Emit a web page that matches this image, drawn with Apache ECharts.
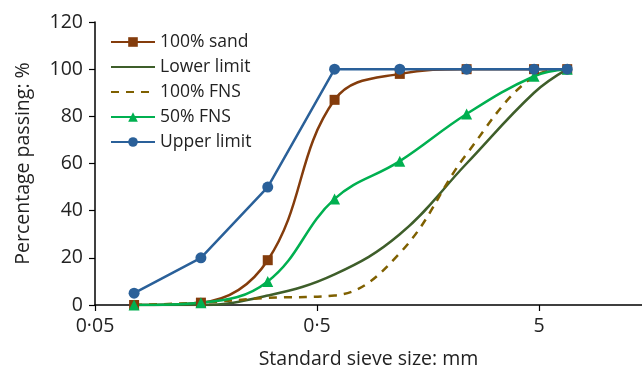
<!DOCTYPE html>
<html>
<head>
<meta charset="utf-8">
<script src="https://cdn.jsdelivr.net/npm/echarts@6/dist/echarts.min.js"></script>
<style>
  html, body { margin: 0; padding: 0; background: #fff; }
  #chart { width: 642px; height: 369px; }
</style>
</head>
<body>
<div id="chart"></div>
<script>
// sieve sizes in mm
const sieveSizes = [0.075, 0.15, 0.3, 0.6, 1.18, 2.36, 4.75, 6.7];
const xTickLabels = ['0·05', '0·5', '5'];

// percentage passing
const sand100 = [0, 1, 19, 87, 98, 100, 100, 100];
const lowerLimit = [0, 0, 4, 13, 30, 60, 90, 100];
const fns100 = [0, 1, 3, 4, 22, 64, 97, 100];
const fns50 = [0, 1, 10, 45, 61, 81, 97, 100];
const upperLimit = [5, 20, 50, 100, 100, 100, 100, 100];

const FONT = 'Open Sans';
const BASE = 0.05;  // left end of the log axis

// x axis is drawn in decades above 0.05 mm
const toPairs = function (vals) {
    return sieveSizes.map((s, i) => [Math.log10(s / BASE), vals[i]]);
};

const lineSeries = function (name, vals, color, opts) {
    return Object.assign({
        name: name,
        type: 'line',
        data: toPairs(vals),
        smooth: 0.4,
        symbol: 'none',
        symbolSize: 10,
        lineStyle: {color: color, width: 2.5},
        itemStyle: {color: color},
        z: 2
    }, opts || {});
};

const chart = echarts.init(document.getElementById('chart'));

chart.setOption({
    animation: false,
    textStyle: {fontFamily: FONT},
    grid: {left: 95, right: 0, top: 22, bottom: 64, outerBoundsMode: 'none', containLabel: false},
    legend: {
        orient: 'vertical',
        left: 110,
        top: 33,
        padding: 0,
        itemWidth: 44,
        itemHeight: 12,
        itemGap: 7,
        textStyle: {fontFamily: FONT, fontSize: 17.5, color: '#222', lineHeight: 18},
        data: [
            {name: '100% sand'},
            // no marker on these two lines
            {name: 'Lower limit', itemStyle: {opacity: 0}},
            {name: '100% FNS', itemStyle: {opacity: 0}},
            {name: '50% FNS'},
            {name: 'Upper limit'}
        ]
    },
    xAxis: {
        type: 'value',
        min: 0,
        max: 2.464,
        interval: 1,
        name: 'Standard sieve size: mm',
        nameLocation: 'middle',
        nameGap: 44,
        nameTextStyle: {fontFamily: FONT, fontSize: 19.5, color: '#222'},
        axisLine: {lineStyle: {color: '#000', width: 1.5}},
        axisTick: {show: true, length: 6, lineStyle: {color: '#000', width: 1.2}},
        axisLabel: {
            margin: 11,
            fontFamily: FONT,
            fontSize: 19.5,
            color: '#222',
            showMaxLabel: false,
            formatter: function (v) {
                const i = Math.round(v);
                return Math.abs(v - i) < 1e-6 && xTickLabels[i] ? xTickLabels[i] : '';
            }
        },
        splitLine: {show: false}
    },
    yAxis: {
        type: 'value',
        min: 0,
        max: 120,
        interval: 20,
        name: 'Percentage passing: %',
        nameLocation: 'middle',
        nameGap: 62,
        nameTextStyle: {fontFamily: FONT, fontSize: 19.5, color: '#222'},
        axisLine: {show: true, lineStyle: {color: '#000', width: 1.5}},
        axisTick: {show: true, length: 6, lineStyle: {color: '#000', width: 1.2}},
        axisLabel: {margin: 12, fontFamily: FONT, fontSize: 19.5, color: '#222'},
        splitLine: {show: false}
    },
    series: [
        lineSeries('100% sand', sand100, '#843C0C', {symbol: 'rect', symbolSize: 10}),
        lineSeries('Lower limit', lowerLimit, '#3E5E2A'),
        lineSeries('100% FNS', fns100, '#7F6000', {
            lineStyle: {color: '#7F6000', width: 2.5, type: [8, 7]}
        }),
        lineSeries('50% FNS', fns50, '#00B050', {symbol: 'triangle', symbolSize: 11}),
        lineSeries('Upper limit', upperLimit, '#2A6099', {smooth: false, symbol: 'circle', symbolSize: 11})
    ]
});
</script>
</body>
</html>
